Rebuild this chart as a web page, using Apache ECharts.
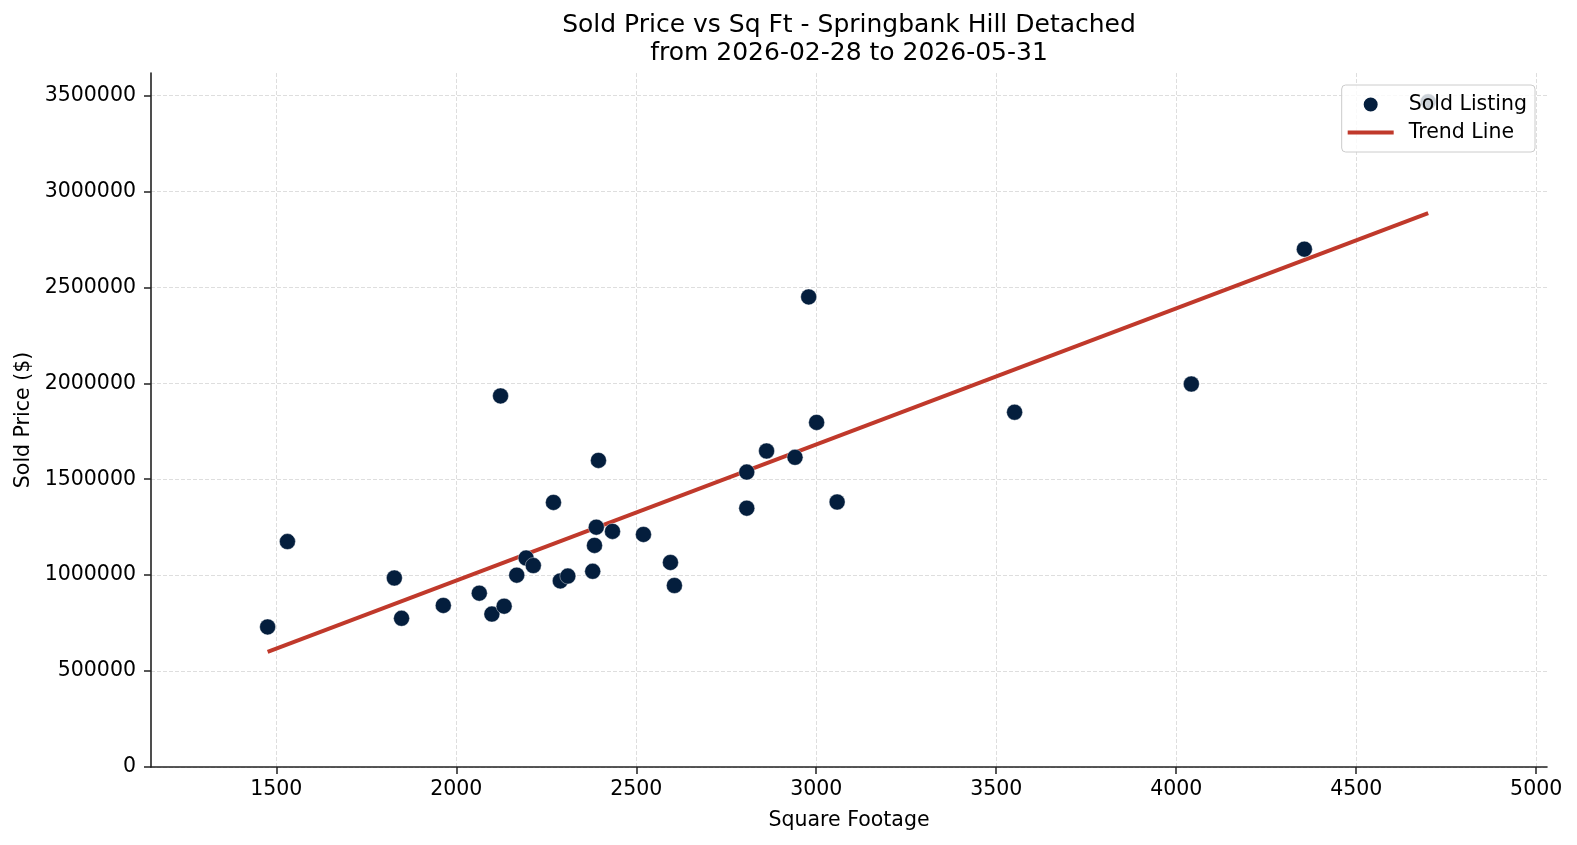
<!DOCTYPE html>
<html>
<head>
<meta charset="UTF-8">
<title>Sold Price vs Sq Ft</title>
<script src="https://cdn.jsdelivr.net/npm/echarts@6/dist/echarts.min.js"></script>
<style>
html, body { margin: 0; padding: 0; background: #fff; }
#main { width: 1577px; height: 845px; }
</style>
</head>
<body>
<div id="main"></div>
<script>
// sold listings (square footage / sold price)
var sqft = [1476, 1531, 1828, 1848, 1964, 2064, 2099, 2133, 2168, 2194, 2214, 2123,
	2270, 2289, 2310, 2379, 2384, 2389, 2395, 2434, 2520, 2595, 2606, 2807, 2807,
	2862, 2941, 2979, 3001, 3058, 3551, 4042, 4356, 4700];
var price = [730000, 1175000, 985000, 775000, 842000, 906000, 797000, 838000, 1000000, 1089000, 1050000, 1934000,
	1379000, 970000, 995000, 1020000, 1155000, 1250000, 1598000, 1228000, 1212000, 1066000, 946000, 1537000, 1349000,
	1647000, 1614000, 2450000, 1796000, 1381000, 1849000, 1996000, 2699000, 3467000];

// trend line end points
var trendX = [1476, 4700];
var trendY = [600000, 2887000];

// tick labels
var xTicks = [1500, 2000, 2500, 3000, 3500, 4000, 4500, 5000];
var yTicks = [0, 500000, 1000000, 1500000, 2000000, 2500000, 3000000, 3500000];

var titleLines = ['Sold Price vs Sq Ft - Springbank Hill Detached', 'from 2026-02-28 to 2026-05-31'];

var FONT = 'DejaVu Sans';
var AXIS_COLOR = '#222';

var points = [];
for (var i = 0; i < sqft.length; i++) {
	points.push([sqft[i], price[i]]);
}
var trend = [];
for (var j = 0; j < trendX.length; j++) {
	trend.push([trendX[j], trendY[j]]);
}

function plain(v) { return String(v); }

var option = {
	animation: false,
	backgroundColor: '#fff',
	textStyle: { fontFamily: FONT },
	graphic: [
		{ type: 'text', x: 849, y: 25, style: { text: titleLines[0], fill: '#000', font: '25px "DejaVu Sans"', textAlign: 'center', textVerticalAlign: 'middle', align: 'center', verticalAlign: 'middle' } },
		{ type: 'text', x: 849, y: 53, style: { text: titleLines[1], fill: '#000', font: '25px "DejaVu Sans"', textAlign: 'center', textVerticalAlign: 'middle', align: 'center', verticalAlign: 'middle' } }
	],
	grid: { left: 151, right: 30, top: 73, bottom: 78 },
	legend: {
		orient: 'vertical',
		right: 42,
		top: 85,
		padding: [9, 8, 9, 6],
		itemGap: 7,
		itemWidth: 46,
		itemHeight: 16,
		backgroundColor: 'rgba(255,255,255,0.8)',
		borderColor: '#cccccc',
		borderWidth: 1,
		borderRadius: 4,
		textStyle: { fontFamily: FONT, fontSize: 20.5, color: '#000', lineHeight: 20, padding: [0, 0, 0, 10] },
		data: [
			{ name: 'Sold Listing', icon: 'circle' },
			// thin bar in a 46x16 box (the bare moveTo points only set the box)
			{ name: 'Trend Line', icon: 'path://M0,0L0,0M0,6H46V10H0ZM46,16L46,16' }
		]
	},
	xAxis: {
		type: 'value',
		min: 1152,
		max: 5030,
		name: 'Square Footage',
		nameLocation: 'middle',
		nameGap: 43,
		nameTextStyle: { fontFamily: FONT, fontSize: 20.5, color: '#000' },
		axisLine: { show: true, onZero: false, lineStyle: { color: AXIS_COLOR, width: 1.6 } },
		axisTick: { show: true, length: 7, lineStyle: { color: AXIS_COLOR, width: 1.5 }, customValues: xTicks },
		axisLabel: { customValues: xTicks, margin: 12, fontFamily: FONT, fontSize: 20.5, color: '#000', formatter: plain },
		splitLine: { show: true, lineStyle: { color: '#d5d5d5', width: 0.8, type: [4, 2] } }
	},
	yAxis: {
		type: 'value',
		min: 0,
		max: 3617000,
		name: 'Sold Price ($)',
		nameLocation: 'middle',
		nameGap: 112,
		nameTextStyle: { fontFamily: FONT, fontSize: 20.5, color: '#000' },
		axisLine: { show: true, onZero: false, lineStyle: { color: AXIS_COLOR, width: 1.6 } },
		axisTick: { show: true, length: 7, lineStyle: { color: AXIS_COLOR, width: 1.5 }, customValues: yTicks },
		axisLabel: { customValues: yTicks, margin: 15, fontFamily: FONT, fontSize: 20.5, color: '#000', formatter: plain },
		splitLine: { show: true, lineStyle: { color: '#d5d5d5', width: 0.8, type: [4, 2] } }
	},
	series: [
		{
			name: 'Trend Line',
			type: 'line',
			data: trend,
			symbol: 'none',
			z: 2,
			lineStyle: { color: '#c0392b', width: 4 },
			itemStyle: { color: '#c0392b' }
		},
		{
			name: 'Sold Listing',
			type: 'scatter',
			data: points,
			symbolSize: 16,
			z: 3,
			itemStyle: { color: '#041e3d', borderColor: '#ffffff', borderWidth: 0.4, opacity: 1 }
		}
	]
};

var myChart = echarts.init(document.getElementById('main'));
myChart.setOption(option);
</script>
</body>
</html>
